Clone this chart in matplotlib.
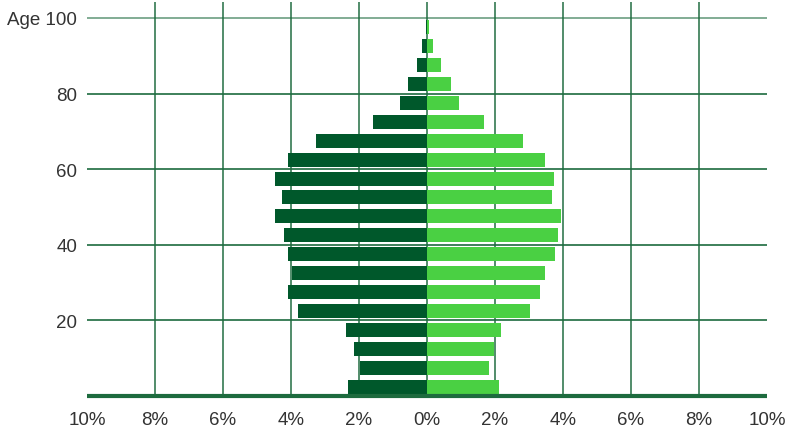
import numpy as np
import matplotlib.pyplot as plt
import matplotlib.ticker as ticker

# ── Colours ────────────────────────────────────────────────────────────────
DARK  = "#00582b"   # left side
LIGHT = "#4ad043"   # right side
GRID  = "#1d6b3e"
TEXT  = "#333333"

plt.rcParams.update({
    "font.family": ["Liberation Sans", "DejaVu Sans"],
    "font.size":   13.5,
    "text.color":  TEXT,
    "xtick.color": TEXT,
    "ytick.color": TEXT,
})

# ── Data: share of population (%) by 5-year age group, 0-4 ... 95-99 ───────
age_start = [0, 5, 10, 15, 20, 25, 30, 35, 40, 45,
             50, 55, 60, 65, 70, 75, 80, 85, 90, 95]
left_pct  = [2.32, 1.97, 2.15, 2.38, 3.79, 4.09, 3.97, 4.09, 4.21, 4.47,
             4.26, 4.47, 4.09, 3.26, 1.59, 0.79, 0.56, 0.29, 0.15, 0.03]
right_pct = [2.12, 1.82, 1.97, 2.18, 3.03, 3.32, 3.47, 3.76, 3.85, 3.94,
             3.68, 3.74, 3.47, 2.82, 1.68, 0.94, 0.71, 0.41, 0.18, 0.06]

y_ticks  = [20, 40, 60, 80, 100]
y_labels = ["20", "40", "60", "80", "Age 100"]
x_ticks  = [-10, -8, -6, -4, -2, 0, 2, 4, 6, 8, 10]

fig = plt.figure(figsize=(8.01, 4.31), dpi=100)
ax = fig.add_axes([87 / 801, 34 / 431, 680 / 801, 394 / 431])

y = np.array(age_start) + 2.5
ax.barh(y, -np.array(left_pct), height=3.7, color=DARK, zorder=3)
ax.barh(y, right_pct, height=3.7, color=LIGHT, zorder=3)

# ── Grid lines (behind bars) ───────────────────────────────────────────────
for xv in x_ticks[1:-1]:
    ax.axvline(xv, color=GRID, lw=1.2, alpha=0.9, zorder=1)
for yv in y_ticks:
    ax.axhline(yv, color=GRID, lw=1.2, alpha=1.0 if yv < 100 else 0.65, zorder=1)
ax.axhline(0, color=GRID, lw=3, zorder=4, clip_on=False, solid_capstyle="butt")

ax.set_xlim(-10, 10)
ax.set_ylim(0, 104.2)

ax.set_xticks(x_ticks)
ax.xaxis.set_major_formatter(ticker.FuncFormatter(lambda v, p: f"{abs(v):.0f}%"))
ax.set_yticks(y_ticks)
ax.set_yticklabels(y_labels)
ax.tick_params(axis="both", length=0)
ax.tick_params(axis="y", pad=7)
ax.tick_params(axis="x", pad=11)

for s in ax.spines.values():
    s.set_visible(False)

fig.savefig("out.png", dpi=100)
